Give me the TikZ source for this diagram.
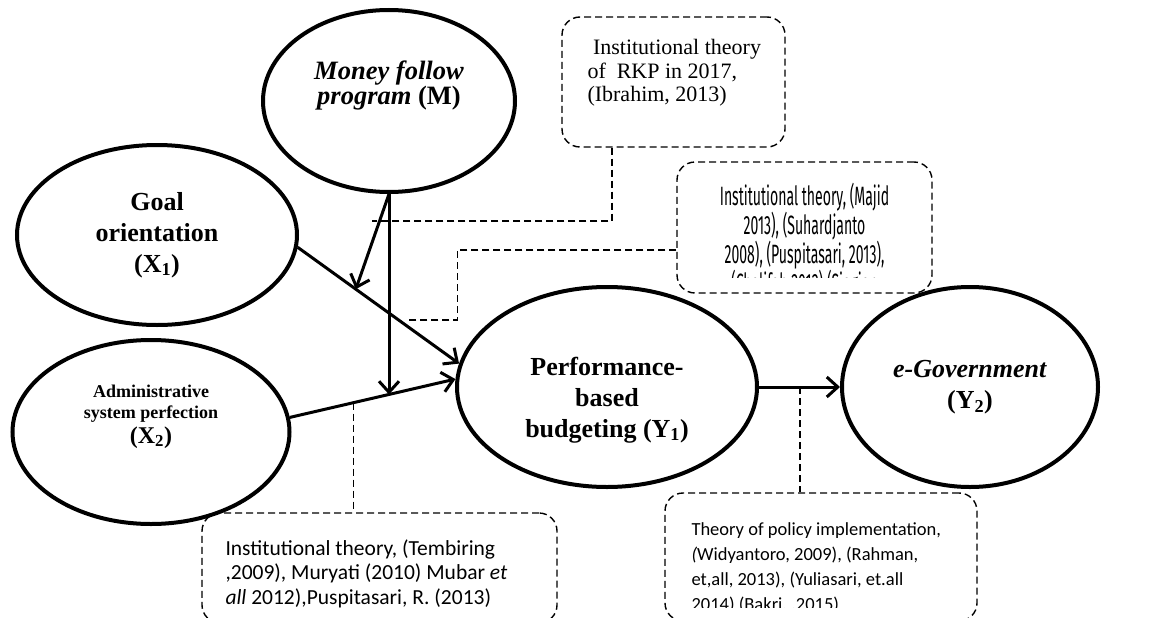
\documentclass[tikz,border=0pt]{standalone}
\usepackage{fontspec}
\setmainfont{Liberation Serif}
\newfontfamily\carlito{Carlito}
\newfontfamily\narrowsans[FakeStretch=0.53]{Fira Sans}
\usetikzlibrary{positioning, shapes.geometric, arrows.meta}

\begin{document}
\begin{tikzpicture}[x=1pt, y=-1pt,
    var/.style = {ellipse, draw, line width=4pt, inner sep=0pt, align=center, font=\bfseries\fontsize{26}{31}\selectfont},
    refbox/.style = {rectangle, draw, rounded corners=18pt, line width=1.4pt, dash pattern=on 7pt off 4pt},
    reftext/.style = {inner sep=0pt, anchor=north west},
    link/.style = {line width=3pt, -{Straight Barb[length=11pt, width=20pt, line width=3pt]}},
    guide/.style = {line width=1.3pt, dash pattern=on 7pt off 4pt}
]
\useasboundingbox (0,0) rectangle (1151,618);
\clip (0,0) rectangle (1151,618);

% variables
\node[var, minimum width=252pt, minimum height=182pt, font=\bfseries\fontsize{26.5}{25}\selectfont] (m) at (389,101) {\textit{Money follow}\\\textit{program} (M)\\[12pt]\mbox{}};
\node[var, minimum width=280pt, minimum height=180pt] (x1) at (157,235) {Goal\\orientation\\(X\textsubscript{1})};
\node[var, minimum width=277pt, minimum height=184pt, font=\bfseries\fontsize{18}{21}\selectfont] (x2) at (151,432) {Administrative\\system perfection\\[4pt]{\fontsize{24}{25}\selectfont (X\textsubscript{2})}\\[15pt]\mbox{}};
\node[var, minimum width=300pt, minimum height=200pt] (y1) at (607,387) {\mbox{}\\[13pt]Performance-\\based\\budgeting (Y\textsubscript{1})};
\node[var, minimum width=256pt, minimum height=200pt] (y2) at (970,387) {\textit{e-Government}\\(Y\textsubscript{2})};

% theory boxes
\node[refbox, minimum width=223pt, minimum height=130pt] (box1) at (673.5,82) {};
\node[refbox, minimum width=255pt, minimum height=131pt] (box2) at (804.5,227.5) {};
\node[refbox, minimum width=355pt, minimum height=110pt] (box3) at (379.5,568) {};
\node[refbox, minimum width=312pt, minimum height=128pt] (box4) at (821,557) {};

\node[reftext, align=left, font=\fontsize{22}{23.3}\selectfont, below right=23pt and 26pt of box1.north west] (t1) {~Institutional theory\\of~ RKP in 2017,\\(Ibrahim, 2013)};
\begin{scope}
  \clip (box2.north west) rectangle ([yshift=16pt]box2.south east);
  \node[inner sep=0pt, anchor=north, align=center, font=\narrowsans\fontsize{26.5}{28}\selectfont, below=22pt of box2.north] (t2) {Institutional theory, (Majid\\2013), (Suhardjanto\\2008), (Puspitasari, 2013),\\(Chalifah 2012) (Siagian};
\end{scope}
\node[reftext, align=left, font=\carlito\fontsize{21.5}{24.5}\selectfont, below right=27pt and 24pt of box3.north west] (t3) {Institutional theory, (Tembiring\\,2009), Muryati (2010) Mubar \textit{et}\\\textit{all} 2012),Puspitasari, R. (2013)};
\begin{scope}
  \clip (box4.north west) rectangle ([yshift=14pt]box4.south east);
  \node[reftext, align=left, font=\carlito\fontsize{18.5}{25}\selectfont, below right=30pt and 27pt of box4.north west] (t4) {Theory of policy implementation,\\\textit{(}Widyantoro, 2009), (Rahman,\\et,all, 2013), (Yuliasari, et.all\\2014) (Bakri, .2015)};
\end{scope}

% paths
\draw[link] (x1.-5) -- coordinate[pos=0.36] (j1) (y1.171);
\draw[link] (x2.6) -- coordinate[pos=0.385] (j3) coordinate[pos=0.598] (j2) (y1.177);
\draw[link] (m.south) -- (j1);
\draw[link] (m.south) -- (m.south |- j2);
\draw[link] (y1.east) -- coordinate[pos=0.506] (j4) (y2.west);

% guides to the theories
\coordinate (c1) at (372,221);
\coordinate (c2) at (408,320);
\draw[guide] ([xshift=-61.5pt]box1.south) |- (c1);
\draw[guide] ([yshift=-22.5pt]box2.west) -- ++(-219,0) |- (c2);
\draw[guide] (j3) -- (j3 |- box3.north);
\draw[guide] (j4) -- (j4 |- box4.north);
\end{tikzpicture}
\end{document}
